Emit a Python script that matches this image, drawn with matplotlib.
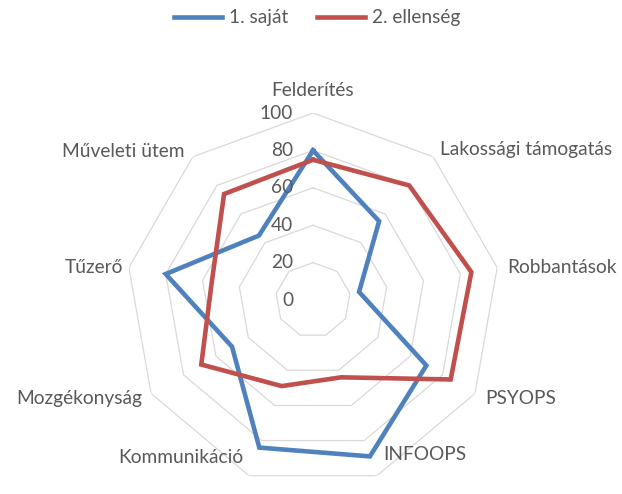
import numpy as np
import matplotlib
matplotlib.use('Agg')
import matplotlib.pyplot as plt

categories = ['Felderítés', 'Lakossági támogatás', 'Robbantások', 'PSYOPS', 'INFOOPS',
              'Kommunikáció', 'Mozgékonyság', 'Tűzerő', 'Műveleti ütem']
sajat = [80, 55, 25, 70, 89, 84, 50, 80, 45]
ellenseg = [75, 80, 86, 85, 44, 49, 69, 55, 74]
ticks = [0, 20, 40, 60, 80, 100]
series_names = ['1. saját', '2. ellenség']

plt.rcParams['font.family'] = ['Lato', 'DejaVu Sans']
txt = '#595959'
fs = 13.8

fig = plt.figure(figsize=(6.22, 4.94), dpi=100)
ax = fig.add_axes([0.2026, 0.0142, 0.6013, 0.757], projection='polar')
ax.set_theta_zero_location('N')
ax.set_theta_direction(-1)
ax.set_ylim(0, 100)
ax.set_xticks([])
ax.set_yticks([])
ax.grid(False)
ax.spines['polar'].set_visible(False)
ax.patch.set_alpha(0)

n = len(categories)
ang = np.linspace(0, 2 * np.pi, n, endpoint=False)
ang_c = np.append(ang, ang[0])

# polygon gridlines
for t in ticks[1:]:
    ax.plot(ang_c, [t] * (n + 1), color='#d9d9d9', lw=0.9, zorder=1)

ax.plot(ang_c, sajat + sajat[:1], color='#4f81bd', lw=3.3, label=series_names[0],
        zorder=3, solid_joinstyle='miter')
ax.plot(ang_c, ellenseg + ellenseg[:1], color='#c0504d', lw=3.3, label=series_names[1],
        zorder=3, solid_joinstyle='miter')

# value labels on the vertical axis
for t in ticks:
    ax.annotate(str(t), (0, t), xytext=(-14.4, 0), textcoords='offset points',
                ha='right', va='center', fontsize=fs, color=txt)

# category labels: (dx, dy) in px, alignment
lab_pos = [(0, 23, 'center'), (7, 7, 'left'), (10, 0, 'left'), (10, -5, 'left'),
           (6, 21, 'left'), (-6, 18, 'right'), (-9, -5, 'right'), (-6, 0, 'right'),
           (-8, 5, 'right')]
for a, name, (dx, dy, ha) in zip(ang, categories, lab_pos):
    ax.annotate(name, (a, 100), xytext=(dx * 0.72, dy * 0.72), textcoords='offset points',
                ha=ha, va='center', fontsize=fs, color=txt, annotation_clip=False)

leg = fig.legend(loc='center', bbox_to_anchor=(0.510, 0.9636), ncol=2, frameon=False,
                 fontsize=fs, handlelength=2.5, handletextpad=0.37, columnspacing=1.5)
for t in leg.get_texts():
    t.set_color(txt)

fig.savefig('out.png', dpi=100)
